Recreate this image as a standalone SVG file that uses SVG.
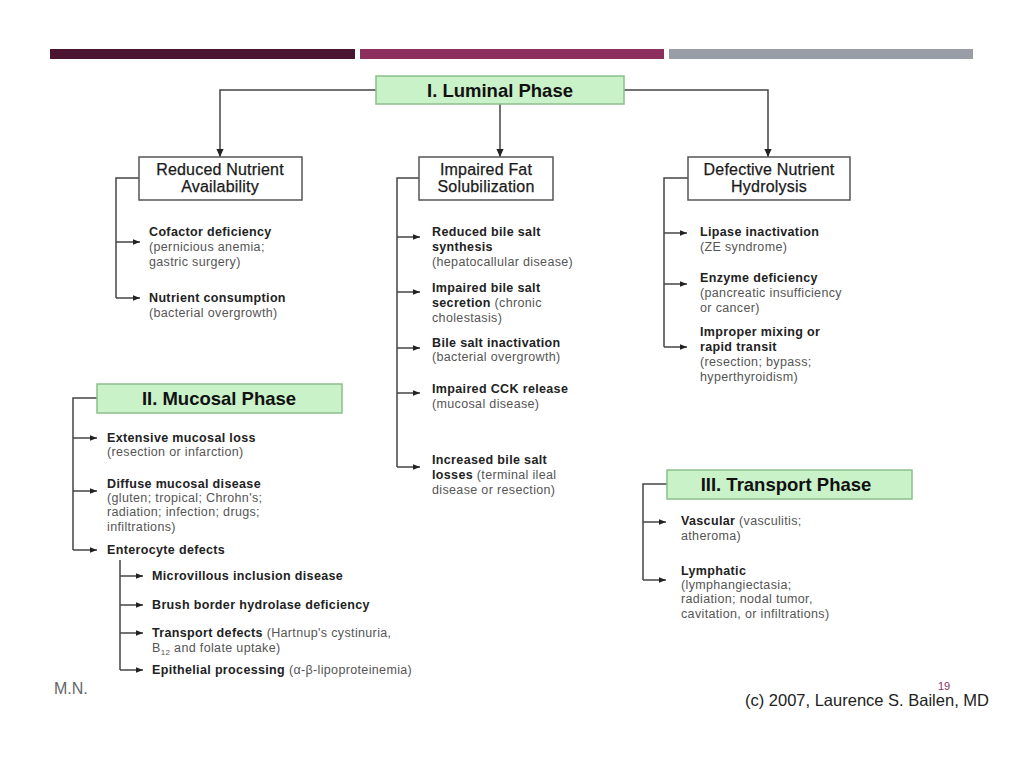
<svg xmlns="http://www.w3.org/2000/svg" width="1024" height="768" viewBox="0 0 1024 768">
<defs>
<marker id="ah" viewBox="0 0 10 10" refX="10" refY="5" markerWidth="7" markerHeight="7" markerUnits="userSpaceOnUse" orient="auto"><path d="M0,1 L10,5 L0,9 Z" fill="#222"/></marker>
<marker id="ahs" viewBox="0 0 10 10" refX="10" refY="5" markerWidth="8" markerHeight="8" markerUnits="userSpaceOnUse" orient="auto"><path d="M0,0.5 L10,5 L0,9.5 Z" fill="#222"/></marker>
</defs>
<style>
text{font-family:"Liberation Sans",Arial,sans-serif}
.phase rect{fill:#c9f2c9;stroke:#8cbf8c;stroke-width:1.5}
.phase text{font-size:18.5px;font-weight:bold;fill:#111;text-anchor:middle}
.cat rect{fill:#fff;stroke:#555;stroke-width:1.5}
.cat text{font-size:16px;fill:#1a1a1a;text-anchor:middle;letter-spacing:0.2px;stroke:#1a1a1a;stroke-width:0.25}
.it{font-size:12.5px;fill:#555;letter-spacing:0.35px}
.b{font-weight:bold;fill:#222}
.conn path{fill:none;stroke:#444;stroke-width:1.5}
.conn .a{marker-end:url(#ah)}
.conn .d{marker-end:url(#ahs)}
</style>
<rect width="1024" height="768" fill="#fff"/>
<g id="bars">
<rect x="50" y="49" width="305" height="10" fill="#4b1431"/>
<rect x="360" y="49" width="304" height="10" fill="#8d2f5e"/>
<rect x="669" y="49" width="304" height="10" fill="#999ea6"/>
</g>

<g class="conn" id="connectors">
<path class="d" d="M376,90 H220 V157"/>
<path class="d" d="M500,104 V157"/>
<path class="d" d="M624,90 H768 V157"/>
<path d="M139,178 H116 V298"/>
<path class="a" d="M116,242 H140"/>
<path class="a" d="M116,298 H140"/>
<path d="M419,178 H397 V467"/>
<path class="a" d="M397,237 H420"/>
<path class="a" d="M397,292 H420"/>
<path class="a" d="M397,348 H420"/>
<path class="a" d="M397,393 H420"/>
<path class="a" d="M397,467 H420"/>
<path d="M688,178 H664 V347"/>
<path class="a" d="M664,233 H687"/>
<path class="a" d="M664,284 H687"/>
<path class="a" d="M664,347 H687"/>
<path d="M97,398 H73 V550"/>
<path class="a" d="M73,438 H97"/>
<path class="a" d="M73,491 H97"/>
<path class="a" d="M73,550 H97"/>
<path d="M120,560 V670"/>
<path class="a" d="M120,576 H143"/>
<path class="a" d="M120,605 H143"/>
<path class="a" d="M120,633 H143"/>
<path class="a" d="M120,670 H143"/>
<path d="M667,484 H643 V580"/>
<path class="a" d="M643,522 H666"/>
<path class="a" d="M643,580 H666"/>
</g>

<g id="luminal" class="phase"><rect x="376" y="76" width="248" height="28"/><text x="500" y="97">I. Luminal Phase</text></g>
<g id="mucosal" class="phase"><rect x="97" y="384" width="245" height="29"/><text x="219" y="405">II. Mucosal Phase</text></g>
<g id="transport" class="phase"><rect x="667" y="470" width="245" height="29"/><text x="786" y="491">III. Transport Phase</text></g>

<g id="reduced" class="cat"><rect x="139" y="157" width="163" height="43"/><text x="220" y="175">Reduced Nutrient</text><text x="220" y="192">Availability</text></g>
<g id="impaired" class="cat"><rect x="419" y="157" width="134" height="43"/><text x="486" y="175">Impaired Fat</text><text x="486" y="192">Solubilization</text></g>
<g id="defective" class="cat"><rect x="688" y="157" width="162" height="43"/><text x="769" y="175">Defective Nutrient</text><text x="769" y="192">Hydrolysis</text></g>

<g id="left-items" class="it">
<text x="149" y="236" class="b">Cofactor deficiency</text>
<text x="149" y="251">(pernicious anemia;</text>
<text x="149" y="266">gastric surgery)</text>
<text x="149" y="302" class="b">Nutrient consumption</text>
<text x="149" y="317">(bacterial overgrowth)</text>
</g>
<g id="mid-items" class="it">
<text x="432" y="236" class="b">Reduced bile salt</text>
<text x="432" y="251" class="b">synthesis</text>
<text x="432" y="266">(hepatocallular disease)</text>
<text x="432" y="292" class="b">Impaired bile salt</text>
<text x="432" y="307"><tspan class="b">secretion</tspan> (chronic</text>
<text x="432" y="322">cholestasis)</text>
<text x="432" y="347" class="b">Bile salt inactivation</text>
<text x="432" y="361">(bacterial overgrowth)</text>
<text x="432" y="393" class="b">Impaired CCK release</text>
<text x="432" y="408">(mucosal disease)</text>
<text x="432" y="464" class="b">Increased bile salt</text>
<text x="432" y="479"><tspan class="b">losses</tspan> (terminal ileal</text>
<text x="432" y="494">disease or resection)</text>
</g>
<g id="right-items" class="it">
<text x="700" y="236" class="b">Lipase inactivation</text>
<text x="700" y="251">(ZE syndrome)</text>
<text x="700" y="282" class="b">Enzyme deficiency</text>
<text x="700" y="297">(pancreatic insufficiency</text>
<text x="700" y="312">or cancer)</text>
<text x="700" y="336" class="b">Improper mixing or</text>
<text x="700" y="351" class="b">rapid transit</text>
<text x="700" y="366">(resection; bypass;</text>
<text x="700" y="381">hyperthyroidism)</text>
</g>
<g id="mucosal-items" class="it">
<text x="107" y="442" class="b">Extensive mucosal loss</text>
<text x="107" y="456">(resection or infarction)</text>
<text x="107" y="488" class="b">Diffuse mucosal disease</text>
<text x="107" y="502">(gluten; tropical; Chrohn's;</text>
<text x="107" y="516">radiation; infection; drugs;</text>
<text x="107" y="531">infiltrations)</text>
<text x="107" y="554" class="b">Enterocyte defects</text>
<text x="152" y="580" class="b">Microvillous inclusion disease</text>
<text x="152" y="609" class="b">Brush border hydrolase deficiency</text>
<text x="152" y="637"><tspan class="b">Transport defects</tspan> (Hartnup's cystinuria,</text>
<text x="152" y="652">B<tspan font-size="8" dy="3">12</tspan><tspan dy="-3"> and folate uptake)</tspan></text>
<text x="152" y="674"><tspan class="b">Epithelial processing</tspan> (α-β-lipoproteinemia)</text>
</g>
<g id="transport-items" class="it">
<text x="681" y="525"><tspan class="b">Vascular</tspan> (vasculitis;</text>
<text x="681" y="540">atheroma)</text>
<text x="681" y="575" class="b">Lymphatic</text>
<text x="681" y="589">(lymphangiectasia;</text>
<text x="681" y="603">radiation; nodal tumor,</text>
<text x="681" y="618">cavitation, or infiltrations)</text>
</g>
<text x="54" y="694" font-size="16" fill="#666">M.N.</text>
<text x="938" y="690" font-size="11" fill="#8d2f5e">19</text>
<text x="745" y="706" font-size="16.5" fill="#222">(c) 2007, Laurence S. Bailen, MD</text>
</svg>
